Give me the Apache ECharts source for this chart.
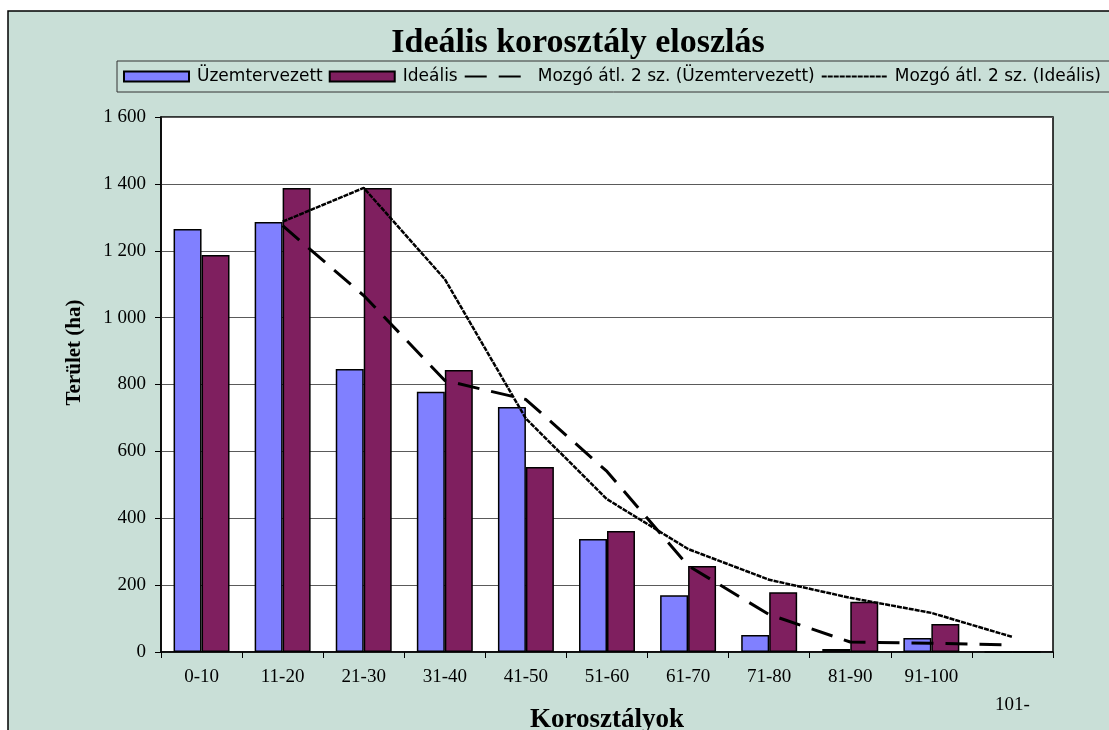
<!DOCTYPE html>
<html>
<head>
<meta charset="utf-8">
<script src="https://cdn.jsdelivr.net/npm/echarts@6/dist/echarts.min.js"></script>
<style>
html,body{margin:0;padding:0;background:#fff;}
#chart{width:1109px;height:730px;}
</style>
</head>
<body>
<div id="chart"></div>
<script>
const categories = ['0-10','11-20','21-30','31-40','41-50','51-60','61-70','71-80','81-90','91-100','101-'];
const uzemtervezett = [1265, 1286, 846, 778, 733, 338, 170, 51, 9, 42, 0];
const idealis = [1187, 1388, 1388, 843, 553, 362, 257, 179, 150, 84, 0];
const maUzemtervezett = [null, 1275, 1066, 812, 755, 540, 258, 112, 30, 26, 21];
const maIdealis = [null, 1287, 1388, 1115, 698, 457, 308, 216, 162, 117, 45];
const yTicks = [0, 200, 400, 600, 800, 1000, 1200, 1400, 1600];
const seriesNames = ['Üzemtervezett', 'Ideális', 'Mozgó átl. 2 sz. (Üzemtervezett)', 'Mozgó átl. 2 sz. (Ideális)'];

const serif = '"Liberation Serif", "Times New Roman", serif';
const chart = echarts.init(document.getElementById('chart'), null, {renderer: 'canvas'});

function fmtNum(v) {
  return String(v).replace(/\B(?=(\d{3})+(?!\d))/g, ' ');
}

chart.setOption({
  animation: false,
  backgroundColor: '#ffffff',
  graphic: [
    {type: 'rect', z: -10, shape: {x: 8, y: 11, width: 1120, height: 740},
     style: {fill: '#C9DFD7', stroke: '#000', lineWidth: 1.5}},
    {type: 'rect', z: -5, shape: {x: 117, y: 61, width: 1010, height: 31},
     style: {fill: 'none', stroke: '#333', lineWidth: 1}}
  ],
  title: {
    text: 'Ideális korosztály eloszlás',
    left: 578, top: 26, textAlign: 'center', padding: 0,
    textStyle: {fontFamily: serif, fontWeight: 'bold', fontSize: 34, color: '#000'}
  },
  legend: {
    left: 123, top: 68, padding: 0,
    itemWidth: 65, itemHeight: 10, itemGap: 6,
    textStyle: {fontFamily: '"DejaVu Sans", sans-serif', fontSize: 17, color: '#000', padding: [0, 0, 0, 3]},
    data: [
      {name: seriesNames[0], icon: 'rect'},
      {name: seriesNames[1], icon: 'rect'},
      {name: seriesNames[2], itemStyle: {opacity: 0}},
      {name: seriesNames[3], itemStyle: {opacity: 0}}
    ]
  },
  grid: {
    left: 161, right: 56, top: 117, bottom: 78,
    containLabel: false, outerBoundsMode: 'none',
    show: true, backgroundColor: '#fff', borderColor: '#000', borderWidth: 1.5
  },
  xAxis: {
    type: 'category', data: categories, boundaryGap: true,
    name: 'Korosztályok', nameLocation: 'middle', nameGap: 55, nameMoveOverlap: false,
    nameTextStyle: {fontFamily: serif, fontWeight: 'bold', fontSize: 27, color: '#000'},
    axisLine: {lineStyle: {color: '#000', width: 1.5}},
    axisTick: {show: true, inside: false, length: 6, alignWithLabel: false, lineStyle: {color: '#000', width: 1}},
    axisLabel: {
      fontFamily: serif, fontSize: 19, color: '#000', margin: 11, lineHeight: 28, interval: 0,
      formatter: function (v, i) { return i === categories.length - 1 ? '\n' + v : v; }
    },
    splitLine: {show: false}
  },
  yAxis: {
    type: 'value', min: yTicks[0], max: yTicks[yTicks.length - 1], interval: 200,
    name: 'Terület (ha)', nameLocation: 'middle', nameGap: 76, nameMoveOverlap: false,
    nameTextStyle: {fontFamily: serif, fontWeight: 'bold', fontSize: 21, color: '#000', padding: [0, 0, 0, 64]},
    axisLine: {show: true, lineStyle: {color: '#000', width: 1.5}},
    axisTick: {show: true, inside: false, length: 6, lineStyle: {color: '#000', width: 1}},
    axisLabel: {fontFamily: serif, fontSize: 19, color: '#000', margin: 15, formatter: fmtNum},
    splitLine: {show: true, lineStyle: {color: '#5a5a5a', width: 1}}
  },
  series: [
    {name: seriesNames[0], type: 'bar', data: uzemtervezett, barGap: '0%', barCategoryGap: '31%',
     itemStyle: {color: '#8080FF', borderColor: '#000', borderWidth: 1.5}, z: 2},
    {name: seriesNames[1], type: 'bar', data: idealis, barGap: '0%', barCategoryGap: '31%',
     itemStyle: {color: '#7F1F5F', borderColor: '#000', borderWidth: 1.5}, z: 2},
    {name: seriesNames[2], type: 'line', data: maUzemtervezett, symbol: 'none', connectNulls: false,
     lineStyle: {color: '#000', width: 3, type: [22, 12]}, itemStyle: {color: 'rgba(0,0,0,0)'}, z: 5},
    {name: seriesNames[3], type: 'line', data: maIdealis, symbol: 'none',
     lineStyle: {color: '#000', width: 2.5, type: [5, 1]}, itemStyle: {color: 'rgba(0,0,0,0)'}, z: 6}
  ]
});
</script>
</body>
</html>
